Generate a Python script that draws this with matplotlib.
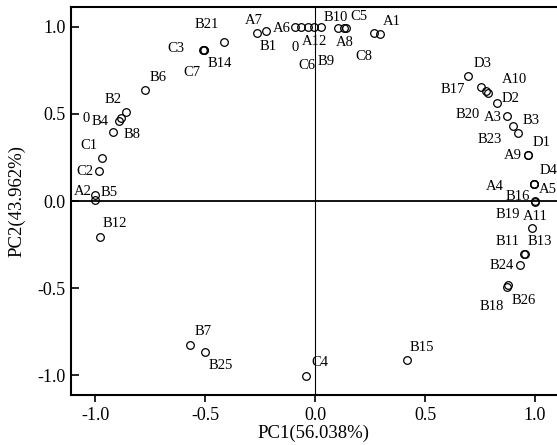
import numpy as np
import matplotlib.pyplot as plt
from matplotlib.ticker import FormatStrFormatter

plt.rcParams['font.family'] = ['Liberation Serif', 'DejaVu Serif']
plt.rcParams['axes.unicode_minus'] = False

# Loadings
names = ['A7', 'B1', 'A6', '0', 'A12', 'C6', 'B9', 'B10', 'C5', 'A8', 'C8', 'A1',
         'B21', 'C3', 'C7', 'B14', 'B6', 'B2', '0', 'B4', 'B8', 'C1', 'C2', 'A2', 'B5',
         'B12', 'B7', 'B25', 'C4', 'B15',
         'D3', 'B17', 'A10', 'B20', 'D2', 'A3', 'B3', 'B23', 'D1', 'A9', 'D4', 'A4', 'A5',
         'B16', 'B19', 'A11', 'B11', 'B13', 'B24', 'B18', 'B26']
pc1 = [-0.266, -0.221, -0.092, -0.063, -0.034, -0.005, 0.026, 0.105, 0.130, 0.142, 0.266, 0.295,
       -0.414, -0.509, -0.506, -0.503, -0.771, -0.858, -0.881, -0.889, -0.919, -0.968, -0.984, -1.0, -1.0,
       -0.977, -0.570, -0.502, -0.043, 0.419,
       0.697, 0.754, 0.775, 0.787, 0.829, 0.874, 0.902, 0.923, 0.968, 0.966, 0.995, 0.994, 0.996,
       1.0, 0.999, 0.987, 0.952, 0.953, 0.931, 0.871, 0.878]
pc2 = [0.963, 0.972, 0.997, 0.997, 0.997, 0.997, 0.997, 0.993, 0.989, 0.989, 0.963, 0.955,
       0.911, 0.867, 0.867, 0.867, 0.637, 0.513, 0.475, 0.461, 0.394, 0.249, 0.174, 0.034, 0.006,
       -0.209, -0.825, -0.867, -1.003, -0.913,
       0.714, 0.653, 0.633, 0.618, 0.559, 0.486, 0.431, 0.389, 0.264, 0.262, 0.096, 0.095, 0.097,
       -0.004, -0.002, -0.157, -0.304, -0.303, -0.364, -0.492, -0.482]

# label offsets in pixels (layout only)
offsets = [(-2.5, 12.7), (2, -15), (-13, -1), (-6.4, -20.4), (6.8, -14.4), (-6.7, -38.5),
           (5.7, -34), (-2.5, 10.7), (15.6, 12), (-1.8, -14), (-9.6, -23.5), (12.4, 12.4),
           (-17, 17.4), (-27, 1.7), (-11.4, -22.5), (15.3, -13.3), (13, 12.7), (-12.8, 11.7),
           (-35, -0.7), (-19.5, -0.7), (19, -1.9), (-12.8, 12), (-13.9, -1), (-12.4, 4),
           (14.2, 7.3), (14.2, 14.1), (13.9, 13), (16, -13), (14.2, 13.3), (14.2, 13.3),
           (14.2, 13.3), (-28.4, -2.6), (29, 10.7), (-20, -21), (13.5, 4.7), (-14.2, -1),
           (17.8, 5.4), (-28.4, -6), (13.5, 12.7), (-15, -0.7), (14.2, 13.3), (-39, -2.4),
           (14.2, -5), (-17, 5.6), (-27, -13.3), (3.6, 12.2), (-17, 12.2), (15, 12.2),
           (-17.8, -0.7), (-15.3, -20), (15.3, -15)]

fig = plt.figure(figsize=(5.57, 4.45), dpi=100)
ax = fig.add_axes([0.1268, 0.1115, 0.8732, 0.8728])

ax.axhline(0, color='black', lw=1.3, zorder=1)
ax.axvline(0, color='black', lw=0.8, zorder=1)

ax.plot(pc1, pc2, 'o', markerfacecolor='none', markeredgecolor='black',
        markersize=5.5, markeredgewidth=0.9, zorder=2)

for name, x, y, off in zip(names, pc1, pc2, offsets):
    ax.annotate(name, (x, y), xytext=off, textcoords='offset pixels',
                ha='center', va='center', fontsize=10.5)

ax.set_xlim(-1.111, 1.1)
ax.set_ylim(-1.114, 1.112)
ax.set_xticks([-1.0, -0.5, 0.0, 0.5, 1.0])
ax.set_yticks([-1.0, -0.5, 0.0, 0.5, 1.0])
ax.xaxis.set_major_formatter(FormatStrFormatter('%.1f'))
ax.yaxis.set_major_formatter(FormatStrFormatter('%.1f'))
ax.tick_params(axis='x', direction='out', length=5, width=1.2, labelsize=13)
ax.tick_params(axis='y', direction='in', length=6, width=1.2, labelsize=13)

for s in ['left', 'bottom', 'top']:
    ax.spines[s].set_linewidth(1.5)
ax.spines['right'].set_visible(False)

ax.set_xlabel('PC1(56.038%)', fontsize=13.5, labelpad=0)
ax.set_ylabel('PC2(43.962%)', fontsize=13.5, labelpad=9)

plt.savefig('out.png', dpi=100)
